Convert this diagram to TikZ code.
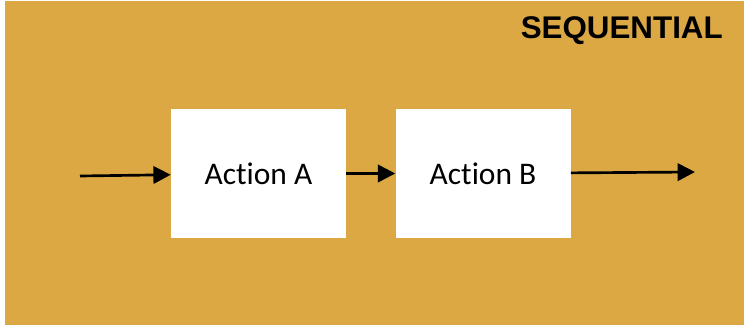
\documentclass[tikz,border=0pt]{standalone}
\usepackage{fontspec}
\setmainfont[Ligatures={NoCommon}]{Carlito}
\newfontfamily\titlefont{Liberation Sans}
\usepackage{xcolor}
\usetikzlibrary{arrows.meta, positioning}
\definecolor{seqorange}{HTML}{DBA843}

\begin{document}
\begin{tikzpicture}[x=0.75pt, y=-0.75pt,
                actionbox/.style={fill=white, minimum width=131.25pt, minimum height=96.75pt, inner sep=0pt, font=\fontsize{23.6pt}{28pt}\selectfont},
                flow/.style={line width=2pt, -{Triangle[length=13pt, width=13pt]}}]
                \useasboundingbox[fill=white] (0, 0) rectangle (744, 325);
                \fill[seqorange] (5, 1) rectangle (744, 325);

                \node[anchor=base east, font=\titlefont\bfseries\fontsize{23.5pt}{28pt}\selectfont, inner sep=0pt] (title) at (723, 38) {SEQUENTIAL};

                \node[actionbox] (a) at (258.5, 173.5) {Action A};
                \node[actionbox, right=36.75pt of a] (b) {Action B};
                \coordinate (in) at (80, 176);
                \coordinate (out) at (695, 172);

                \draw[flow] (in) -- (a);
                \draw[flow] (a) -- (b);
                \draw[flow] (b) -- (out);
            \end{tikzpicture}
\end{document}
